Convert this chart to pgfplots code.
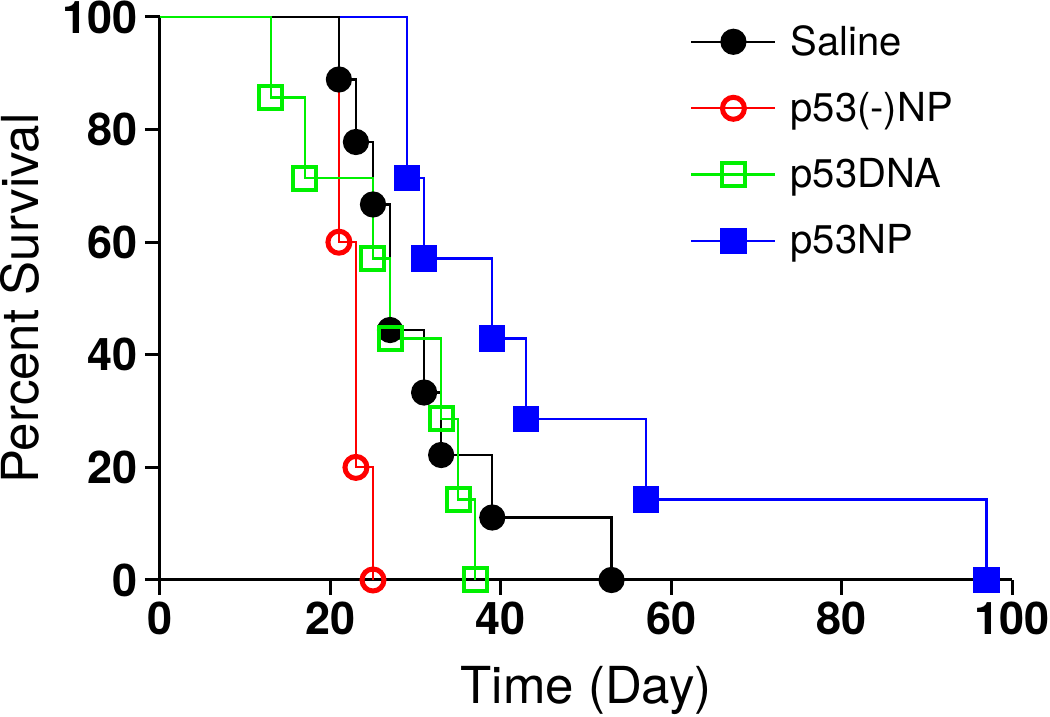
\documentclass[border=0pt]{standalone}
\usepackage{fontspec}
\setmainfont{TeX Gyre Heros}
\usepackage{pgfplots}
\pgfplotsset{compat=1.18}
\definecolor{kgreen}{RGB}{0,240,0}
\definecolor{kred}{RGB}{255,0,0}
\definecolor{kblue}{RGB}{0,0,255}
\begin{document}
\begin{tikzpicture}
\begin{axis}[
  name=ax,
  scale only axis, width=426pt, height=281.5pt,
  xmin=0,xmax=100,ymin=0,ymax=100,
  axis x line*=bottom, axis y line*=left,
  axis line style={line width=1.5pt,-},
  xtick={0,20,...,100}, ytick={0,20,...,100},
  tick align=outside, major tick length=7.5pt,
  every tick/.style={black,line width=1.5pt},
  tick label style={font=\fontsize{22.5}{25}\selectfont\bfseries},
  /pgf/number format/assume math mode=true,
  xlabel={Time (Day)}, ylabel={Percent Survival},
  label style={font=\fontsize{25.5}{29}\selectfont},
  xlabel style={at={(axis description cs:0.5,-0.1954)},anchor=center},
  ylabel style={at={(axis description cs:-0.1643,0.5)},anchor=center},
  clip=false,
  legend style={draw=none, fill=none, at={(axis description cs:0.622,0.993)}, anchor=north west,
     font=\fontsize{20}{24}\selectfont, inner sep=0pt, row sep=13pt,
     nodes={inner sep=2pt},
     /tikz/every odd column/.append style={column sep=5pt}},
  legend cell align=left,
  legend image code/.code={\draw[mark repeat=2,mark phase=2] plot coordinates {(0pt,0pt) (21pt,0pt) (42pt,0pt)};},
]
\addlegendimage{black, line width=1.1pt, mark=*, mark size=6pt}
\addlegendentry{Saline}
\addlegendimage{kred, line width=1.1pt, mark=o, mark size=5.5pt, mark options={line width=2.5pt}}
\addlegendentry{p53(-)NP}
\addlegendimage{kgreen, line width=1.1pt, mark=square, mark size=5.75pt, mark options={line width=2pt}}
\addlegendentry{p53DNA}
\addlegendimage{kblue, line width=1.1pt, mark=square*, mark size=6pt}
\addlegendentry{p53NP}

% p53(-)NP
\addplot[forget plot, const plot, kred, line width=1.1pt, mark=o, mark size=5.5pt, mark options={line width=2.5pt}, mark repeat=1, mark phase=2]
coordinates {(0,100) (21,60) (23,20) (25,0)};
% p53NP
\addplot[forget plot, const plot, kblue, line width=1.1pt, mark=square*, mark size=6pt, mark repeat=1, mark phase=2]
coordinates {(0,100) (29,71.4) (31,57.1) (39,42.9) (43,28.6) (57,14.3) (97,0)};
% Saline
\addplot[forget plot, const plot, black, line width=1.1pt, mark=*, mark size=6pt, mark repeat=1, mark phase=2]
coordinates {(0,100) (21,88.9) (23,77.8) (25,66.7) (27,44.4) (31,33.3) (33,22.2) (39,11.1) (53,0)};
% p53DNA
\addplot[forget plot, const plot, kgreen, line width=1.1pt, mark=square, mark size=5.75pt, mark options={line width=2pt}, mark repeat=1, mark phase=2]
coordinates {(0,100) (13,85.7) (17,71.4) (25,57.1) (27,42.9) (33,28.6) (35,14.3) (37,0)};
\end{axis}
\pgfresetboundingbox
\path[use as bounding box] (ax.south west) ++(-80pt,-68.5pt) rectangle ++(525pt,358.5pt);
\end{tikzpicture}
\end{document}
